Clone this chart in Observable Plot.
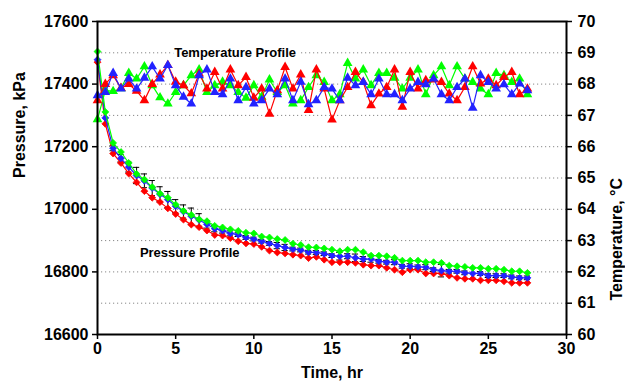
<!DOCTYPE html>
<html>
<head>
<meta charset="utf-8">
<script src="https://cdn.jsdelivr.net/npm/d3@7"></script>
<script src="https://cdn.jsdelivr.net/npm/@observablehq/plot@0.6"></script>
<style>
  html, body { margin: 0; padding: 0; background: #fff; }
  svg { display: block; }
</style>
</head>
<body>
<div id="chart"></div>
<script>
// Sampling times, hours
const hours = [0, 0.5, 1, 1.5, 2, 2.5, 3, 3.5, 4, 4.5, 5, 5.5, 6, 6.5, 7, 7.5, 8, 8.5, 9, 9.5,
  10, 10.5, 11, 11.5, 12, 12.5, 13, 13.5, 14, 14.5, 15, 15.5, 16, 16.5, 17, 17.5, 18, 18.5, 19, 19.5,
  20, 20.5, 21, 21.5, 22, 22.5, 23, 23.5, 24, 24.5, 25, 25.5, 26, 26.5, 27, 27.5];

// Pressure, kPa
const pressureRed = [17470, 17273, 17178, 17148, 17114, 17086, 17058, 17037, 17023, 17003,
  16985, 16967, 16951, 16943, 16932, 16918, 16916, 16908, 16898, 16891,
  16889, 16880, 16868, 16862, 16859, 16855, 16852, 16844, 16848, 16839,
  16831, 16831, 16831, 16829, 16823, 16820, 16820, 16813, 16807, 16799,
  16807, 16807, 16795, 16795, 16795, 16788, 16781, 16778, 16778, 16773,
  16773, 16773, 16770, 16765, 16765, 16765];
const pressureBlue = [17478, 17292, 17195, 17163, 17135, 17108, 17091, 17068, 17048, 17031,
  17010, 16993, 16978, 16966, 16952, 16938, 16932, 16923, 16919, 16910,
  16905, 16898, 16891, 16884, 16878, 16873, 16870, 16863, 16862, 16858,
  16852, 16850, 16850, 16845, 16841, 16841, 16834, 16831, 16831, 16818,
  16818, 16816, 16815, 16807, 16804, 16802, 16802, 16797, 16795, 16795,
  16788, 16788, 16788, 16784, 16781, 16781];
const pressureGreen = [17504, 17311, 17212, 17183, 17148, 17113, 17095, 17071, 17050, 17037,
  17015, 16995, 16982, 16968, 16962, 16947, 16942, 16936, 16931, 16925,
  16923, 16913, 16910, 16905, 16902, 16890, 16886, 16879, 16878, 16875,
  16871, 16866, 16871, 16871, 16863, 16852, 16852, 16850, 16845, 16836,
  16836, 16836, 16831, 16831, 16829, 16820, 16818, 16816, 16813, 16813,
  16810, 16810, 16807, 16802, 16802, 16797];
// Spread of the pressure readings (± kPa), shown on the blue run
const pressureErr = [0, 0, 8, 12, 16, 26, 22, 24, 24, 26,
  21, 21, 26, 20, 12, 10, 8, 8, 6, 6,
  6, 6, 6, 10, 10, 6, 6, 6, 6, 6,
  6, 12, 8, 12, 8, 10, 6, 6, 8, 6,
  8, 6, 8, 6, 20, 6, 6, 6, 18, 6,
  6, 6, 6, 6, 6, 6];

// Temperature, °C
const tempRed = [67.48, 68.0, 68.28, 67.87, 68.0, 67.78, 67.48, 68.0, 68.3, 68.6,
  68.07, 67.96, 67.7, 68.33, 67.85, 68.38, 67.85, 68.46, 67.96, 68.22,
  67.56, 67.85, 67.05, 67.8, 68.54, 67.85, 68.3, 67.17, 68.46, 67.85,
  66.86, 67.48, 67.9, 68.38, 68.06, 67.32, 67.69, 67.9, 68.46, 67.27,
  68.38, 67.85, 68.12, 68.14, 68.06, 67.69, 67.48, 67.9, 68.56, 68.01,
  68.17, 67.96, 68.22, 68.38, 67.67, 67.85];
const tempBlue = [67.64, 67.74, 68.35, 67.85, 68.17, 67.85, 68.2, 68.56, 68.17, 68.6,
  67.96, 67.59, 67.37, 68.28, 68.46, 67.74, 67.67, 68.17, 67.48, 67.9,
  67.37, 67.48, 67.85, 67.67, 68.17, 67.48, 68.07, 67.35, 67.48, 67.9,
  67.85, 67.48, 68.2, 67.96, 68.06, 67.67, 68.17, 67.67, 67.67, 67.48,
  67.85, 68.06, 67.99, 68.17, 67.67, 67.48, 67.9, 68.17, 67.24, 68.28,
  68.06, 67.85, 67.99, 67.67, 68.01, 67.8];
const tempGreen = [66.87, 67.8, 67.77, 67.86, 68.35, 68.17, 68.56, 67.96, 67.57, 67.37,
  67.74, 67.96, 68.28, 68.46, 67.74, 67.96, 68.07, 67.96, 67.74, 67.56,
  67.96, 67.59, 68.14, 67.74, 67.96, 67.37, 67.48, 67.9, 68.28, 68.06,
  67.48, 67.67, 68.67, 68.17, 68.46, 67.96, 68.35, 68.35, 68.2, 67.85,
  68.2, 68.46, 67.67, 68.28, 68.56, 67.96, 68.56, 68.17, 68.06, 67.85,
  67.67, 68.35, 68.28, 68.06, 68.17, 67.67];

// Axis ticks
const timeTicks = [0, 5, 10, 15, 20, 25, 30];
const pressureTicks = [16600, 16800, 17000, 17200, 17400, 17600];
const pressureGrid = [16700, 16800, 16900, 17000, 17100, 17200, 17300, 17400, 17500];
const tempTicks = [60, 61, 62, 63, 64, 65, 66, 67, 68, 69, 70];

const colors = { red: "#ff0000", blue: "#2222ff", green: "#00ff00" };

// Temperature shares the plot with pressure: 60–70 °C spans 16600–17600 kPa
const tempToP = t => 16600 + (t - 60) * 100;
const pToTemp = p => Math.round((p - 16600) / 100 + 60);

const pressureRuns = [["red", pressureRed], ["blue", pressureBlue], ["green", pressureGreen]];
const tempRuns = [["green", tempGreen], ["red", tempRed], ["blue", tempBlue]];

const pressureMarks = pressureRuns.flatMap(([name, values]) => {
  const rows = hours.map((h, i) => ({ h, v: values[i] }));
  return [
    Plot.line(rows, { x: "h", y: "v", stroke: colors[name], strokeWidth: 1.2 }),
    Plot.dot(rows, { x: "h", y: "v", symbol: "diamond2", r: 3.1, fill: colors[name], stroke: colors[name], strokeWidth: 0.8 })
  ];
});

const tempMarks = tempRuns.flatMap(([name, values]) => {
  const rows = hours.map((h, i) => ({ h, v: tempToP(values[i]) }));
  return [
    Plot.line(rows, { x: "h", y: "v", stroke: colors[name], strokeWidth: 1.2 }),
    Plot.dot(rows, { x: "h", y: "v", symbol: "triangle", r: 3.6, fill: colors[name], stroke: "none" })
  ];
});

const errRows = hours.map((h, i) => ({ h, v: pressureBlue[i], e: pressureErr[i] })).filter(d => d.e > 0);

const chart = Plot.plot({
  width: 625,
  height: 388,
  marginLeft: 97,
  marginRight: 59,
  marginTop: 21,
  marginBottom: 54,
  x: { domain: [0, 30] },
  y: { domain: [16600, 17600] },
  style: {
    fontFamily: "Arial, 'Liberation Sans', sans-serif",
    fontSize: "16px",
    fontWeight: "bold",
    color: "black",
    background: "white"
  },
  marks: [
    Plot.gridY(pressureGrid, { stroke: "#888", strokeOpacity: 1, strokeWidth: 1, strokeDasharray: "1.2,2.8" }),
    Plot.text(["Temperature Profile"], {
      x: 8.8, y: 17500, fontSize: 13, fontWeight: "bold", fill: "black",
      stroke: "white", strokeWidth: 7, paintOrder: "stroke"
    }),
    Plot.text(["Pressure Profile"], { x: 5.9, y: 16860, fontSize: 13, fontWeight: "bold", fill: "black" }),
    Plot.ruleX(errRows, { x: "h", y1: d => d.v - d.e, y2: d => d.v + d.e, stroke: "black", strokeWidth: 1 }),
    Plot.ruleY(errRows, { y: d => d.v + d.e, x1: d => d.h - 0.2, x2: d => d.h + 0.2, stroke: "black", strokeWidth: 1 }),
    Plot.ruleY(errRows, { y: d => d.v - d.e, x1: d => d.h - 0.2, x2: d => d.h + 0.2, stroke: "black", strokeWidth: 1 }),
    ...pressureMarks,
    ...tempMarks,
    Plot.frame({ stroke: "black", strokeWidth: 2 }),
    Plot.axisY(pressureTicks, { anchor: "left", tickSize: 5, tickPadding: 4, strokeWidth: 1.5, label: null, tickFormat: d => String(d), fontSize: 16, fontWeight: "bold" }),
    Plot.axisY(tempTicks.map(tempToP), { anchor: "right", tickSize: 5, tickPadding: 6, strokeWidth: 1.5, label: null, tickFormat: pToTemp, fontSize: 16, fontWeight: "bold" }),
    Plot.axisX(timeTicks, { anchor: "bottom", tickSize: 5, tickPadding: 3, strokeWidth: 1.5, label: null, fontSize: 16, fontWeight: "bold" }),
    Plot.text(["Pressure, kPa"], { frameAnchor: "left", dx: -78, rotate: -90, fontSize: 16, fontWeight: "bold", fill: "black" }),
    Plot.text(["Temperature, °C"], { frameAnchor: "right", dx: 50, rotate: -90, fontSize: 16, fontWeight: "bold", fill: "black" }),
    Plot.text(["Time, hr"], { frameAnchor: "bottom", dy: 43, fontSize: 16, fontWeight: "bold", fill: "black" })
  ]
});

document.getElementById("chart").appendChild(chart);
</script>
</body>
</html>
